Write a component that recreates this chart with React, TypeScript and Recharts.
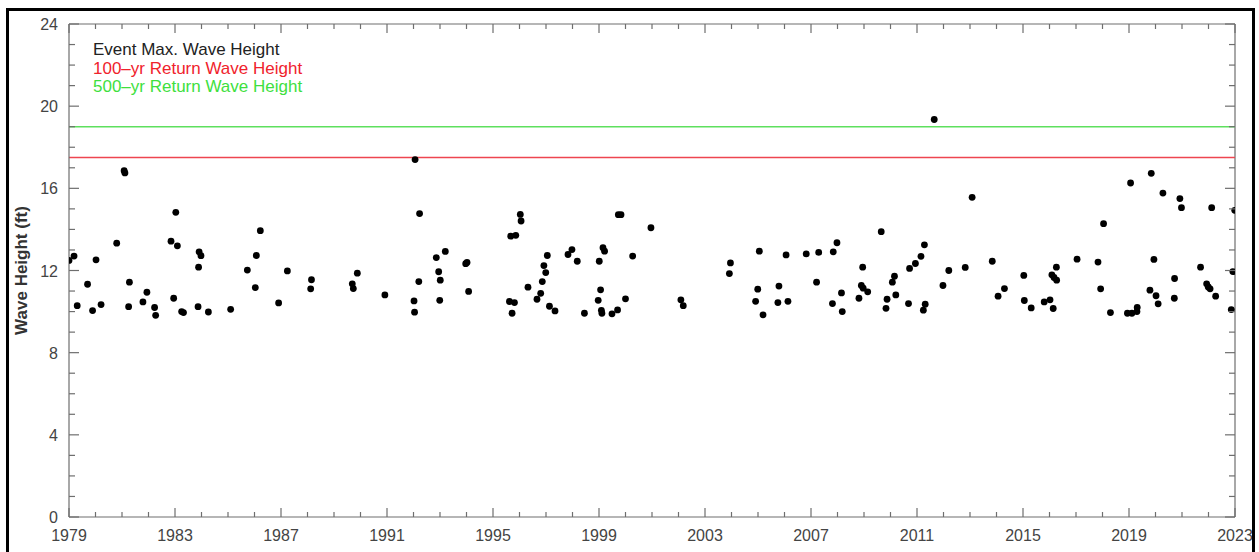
import {
  ScatterChart,
  Scatter,
  XAxis,
  YAxis,
  ReferenceLine,
  Legend,
  Label,
} from 'recharts';

// event max wave heights (decimal year, ft)
const EVENT_YEAR = [
  1979.0, 1979.19, 1979.31, 1979.7, 1979.89, 1980.02, 1980.21, 1980.8, 1981.08, 1981.11,
  1981.25, 1981.28, 1981.79, 1981.94, 1982.23, 1982.27, 1982.85, 1982.95, 1983.03, 1983.09,
  1983.25, 1983.32, 1983.87, 1983.89, 1983.91, 1983.98, 1984.26, 1985.1, 1985.73, 1986.03,
  1986.07, 1986.22, 1986.91, 1987.24, 1988.12, 1988.15, 1989.69, 1989.73, 1989.88, 1990.92,
  1992.02, 1992.04, 1992.06, 1992.2, 1992.23, 1992.86, 1992.95, 1992.99, 1993.01, 1993.2,
  1993.97, 1994.02, 1994.08, 1995.62, 1995.67, 1995.72, 1995.81, 1995.86, 1996.03, 1996.06,
  1996.32, 1996.66, 1996.8, 1996.86, 1996.92, 1996.99, 1997.05, 1997.13, 1997.34, 1997.83,
  1997.98, 1998.18, 1998.45, 1998.97, 1999.01, 1999.06, 1999.09, 1999.11, 1999.15, 1999.21,
  1999.49, 1999.7, 1999.73, 1999.83, 2000.0, 2000.27, 2000.96, 2002.09, 2002.18, 2003.92,
  2003.96, 2004.91, 2004.99, 2005.05, 2005.19, 2005.75, 2005.79, 2006.06, 2006.13, 2006.82,
  2007.21, 2007.29, 2007.81, 2007.84, 2007.98, 2008.15, 2008.18, 2008.81, 2008.9, 2008.95,
  2008.97, 2009.14, 2009.65, 2009.83, 2009.87, 2010.07, 2010.15, 2010.2, 2010.68, 2010.72,
  2010.94, 2011.15, 2011.24, 2011.28, 2011.31, 2011.65, 2011.98, 2012.2, 2012.82, 2013.08,
  2013.84, 2014.06, 2014.3, 2015.03, 2015.05, 2015.31, 2015.8, 2016.02, 2016.09, 2016.14,
  2016.17, 2016.26, 2016.27, 2017.04, 2017.83, 2017.93, 2018.04, 2018.3, 2018.94, 2019.06,
  2019.11, 2019.3, 2019.31, 2019.79, 2019.84, 2019.94, 2020.02, 2020.1, 2020.28, 2020.71,
  2020.72, 2020.92, 2020.98, 2021.7, 2021.93, 2021.99, 2022.06, 2022.12, 2022.27, 2022.86,
  2022.92, 2022.99,
];

const EVENT_HEIGHT = [
  12.49, 12.7, 10.29, 11.33, 10.05, 12.52, 10.34, 13.33, 16.86, 16.75,
  10.24, 11.43, 10.47, 10.94, 10.2, 9.82, 13.43, 10.65, 14.83, 13.2,
  10.0, 9.95, 10.24, 12.16, 12.91, 12.72, 9.98, 10.11, 12.02, 11.17,
  12.73, 13.94, 10.42, 11.98, 11.11, 11.55, 11.35, 11.12, 11.87, 10.81,
  10.52, 9.97, 17.4, 11.46, 14.77, 12.63, 11.94, 10.55, 11.53, 12.93,
  12.33, 12.39, 10.98, 10.49, 13.67, 9.92, 10.44, 13.71, 14.73, 14.41,
  11.19, 10.6, 10.89, 11.46, 12.24, 11.9, 12.73, 10.26, 10.03, 12.78,
  13.02, 12.45, 9.92, 10.55, 12.45, 11.06, 10.06, 9.92, 13.11, 12.94,
  9.89, 10.08, 14.72, 14.72, 10.62, 12.7, 14.08, 10.57, 10.29, 11.85,
  12.37, 10.5, 11.09, 12.94, 9.84, 10.44, 11.24, 12.76, 10.5, 12.81,
  11.43, 12.88, 10.39, 12.91, 13.35, 10.91, 10.0, 10.65, 11.27, 12.16,
  11.14, 10.96, 13.89, 10.16, 10.6, 11.43, 11.72, 10.81, 10.39, 12.1,
  12.34, 12.69, 10.07, 13.25, 10.36, 19.35, 11.27, 12.0, 12.15, 15.56,
  12.45, 10.75, 11.12, 11.76, 10.54, 10.18, 10.47, 10.57, 11.79, 10.15,
  11.66, 12.16, 11.53, 12.55, 12.41, 11.11, 14.28, 9.95, 9.92, 16.26,
  9.92, 10.0, 10.2, 11.04, 16.73, 12.54, 10.77, 10.38, 15.77, 10.65,
  11.61, 15.5, 15.06, 12.16, 11.35, 11.2, 11.11, 15.06, 10.75, 10.1,
  11.95, 14.93,
];

const RETURN_100YR = 17.5;
const RETURN_500YR = 19.0;

const X_LABELS = [1979, 1983, 1987, 1991, 1995, 1999, 2003, 2007, 2011, 2015, 2019, 2023];
const Y_LABELS = [0, 4, 8, 12, 16, 20, 24];
const X_TICKS = Array.from({ length: 45 }, (_, i) => 1979 + i);
const Y_TICKS = Array.from({ length: 25 }, (_, i) => i);

const LEGEND_ITEMS = [
  { label: 'Event Max. Wave Height', color: '#222222' },
  { label: '100\u2013yr Return Wave Height', color: '#f0222c' },
  { label: '500\u2013yr Return Wave Height', color: '#3ee03e' },
];

const points = EVENT_YEAR.map((year, i) => ({ year, height: EVENT_HEIGHT[i] }));

const W = 1259;
const H = 552;
const PLOT_TOP = 24;
const PLOT_RIGHT = 1235;
const AXIS = '#6e6e6e';
const FONT = '"Liberation Sans", Arial, sans-serif';

function XTick({ x, y, payload }: any) {
  const major = X_LABELS.includes(payload.value);
  const len = major ? 9 : 5;
  return (
    <g>
      <line x1={x} y1={y} x2={x} y2={y - len} stroke={AXIS} strokeWidth={1.2} />
      <line x1={x} y1={PLOT_TOP} x2={x} y2={PLOT_TOP + len} stroke={AXIS} strokeWidth={1.2} />
      {major && (
        <text x={x} y={y + 24} textAnchor="middle" fontSize={16} fill="#444" fontFamily={FONT}>
          {payload.value}
        </text>
      )}
    </g>
  );
}

function YTick({ x, y, payload }: any) {
  const major = Y_LABELS.includes(payload.value);
  const len = major ? 10 : 6;
  return (
    <g>
      <line x1={x} y1={y} x2={x + len} y2={y} stroke={AXIS} strokeWidth={1.2} />
      <line x1={PLOT_RIGHT} y1={y} x2={PLOT_RIGHT - len} y2={y} stroke={AXIS} strokeWidth={1.2} />
      {major && (
        <text x={x - 11} y={y + 6} textAnchor="end" fontSize={16} fill="#444" fontFamily={FONT}>
          {payload.value}
        </text>
      )}
    </g>
  );
}

function LegendBox() {
  return (
    <div style={{ fontFamily: FONT, fontSize: 17, lineHeight: '18.5px' }}>
      {LEGEND_ITEMS.map((item) => (
        <div key={item.label} style={{ color: item.color, whiteSpace: 'nowrap' }}>
          {item.label}
        </div>
      ))}
    </div>
  );
}

export default function App() {
  return (
    <div
      style={{
        position: 'absolute',
        left: 0,
        top: 0,
        width: W,
        height: H,
        background: '#fff',
        overflow: 'hidden',
      }}
    >
      <div style={{ position: 'absolute', left: 0, top: 0 }}>
        <ScatterChart
          width={W}
          height={H}
          margin={{ top: PLOT_TOP, right: W - PLOT_RIGHT, bottom: 0, left: 0 }}
        >
          <XAxis
            type="number"
            dataKey="year"
            domain={[1979, 2023]}
            ticks={X_TICKS}
            interval={0}
            height={35}
            tickSize={0}
            tickMargin={0}
            tickLine={false}
            tick={<XTick />}
            axisLine={{ stroke: AXIS, strokeWidth: 1.2 }}
            allowDataOverflow
          />
          <YAxis
            type="number"
            dataKey="height"
            domain={[0, 24]}
            ticks={Y_TICKS}
            interval={0}
            width={69}
            tickSize={0}
            tickMargin={0}
            tickLine={false}
            tick={<YTick />}
            axisLine={{ stroke: AXIS, strokeWidth: 1.2 }}
            allowDataOverflow
          >
            <Label
              content={({ viewBox }: any) => (
                <text
                  transform={`translate(${viewBox.x + 27},${viewBox.y + viewBox.height / 2}) rotate(-90)`}
                  textAnchor="middle"
                  fontSize={17}
                  fontWeight="bold"
                  fill="#333"
                  fontFamily={FONT}
                >
                  Wave Height (ft)
                </text>
              )}
            />
          </YAxis>
          <ReferenceLine y={24} stroke={AXIS} strokeWidth={1.2} />
          <ReferenceLine x={2023} stroke={AXIS} strokeWidth={1.2} />
          <ReferenceLine y={RETURN_500YR} stroke="#5ee05e" strokeWidth={1.5} />
          <ReferenceLine y={RETURN_100YR} stroke="#ee4650" strokeWidth={1.5} />
          <Legend
            layout="vertical"
            align="center"
            verticalAlign="middle"
            content={<LegendBox />}
            wrapperStyle={{ top: 41, left: 93, width: 'auto' }}
          />
          <Scatter
            data={points}
            isAnimationActive={false}
            shape={(props: any) => <circle cx={props.cx} cy={props.cy} r={3.4} fill="#000" />}
          />
        </ScatterChart>
      </div>
      <div
        style={{
          position: 'absolute',
          left: 6,
          top: 8,
          width: 1249,
          height: 600,
          border: '3px solid #000',
          boxSizing: 'border-box',
          pointerEvents: 'none',
        }}
      />
    </div>
  );
}
